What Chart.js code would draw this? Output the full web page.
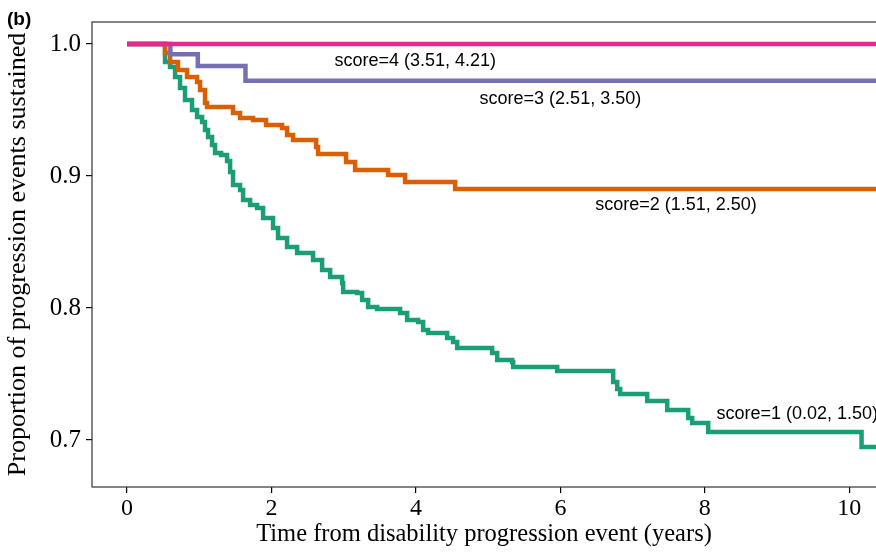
<!DOCTYPE html>
<html>
<head>
    <title>Progression events sustained</title>
    <script src="https://cdn.jsdelivr.net/npm/chart.js"></script>
    <style>
        body {
            margin: 0;
            background: white;
        }

        .chart-container {
            width: 876px;
            height: 555px;
        }
    </style>
</head>
<body>
    <div class="chart-container">
        <canvas id="km-chart"></canvas>
    </div>

    <script>
        // step points: survival drops to value at the given time (years)
        const score1Times = [0, 0.5, 0.526, 0.596, 0.665, 0.734, 0.803, 0.9, 0.97, 1.039, 1.08, 1.122, 1.177, 1.219, 1.302, 1.385, 1.427, 1.468, 1.565, 1.607, 1.704, 1.801, 1.884, 2.022, 2.091, 2.216, 2.355, 2.576, 2.701, 2.812, 2.978, 2.992, 3.186, 3.255, 3.338, 3.463, 3.781, 3.878, 4.03, 4.1, 4.169, 4.432, 4.515, 4.571, 5.055, 5.125, 5.332, 5.346, 5.956, 6.731, 6.787, 6.828, 7.202, 7.479, 7.77, 7.825, 8.047, 10.17, 10.4];
        const score1Surv = [1.0, 1.0, 0.9864, 0.9826, 0.975, 0.9667, 0.9576, 0.95, 0.9447, 0.9409, 0.9348, 0.9295, 0.9235, 0.9174, 0.9159, 0.9114, 0.903, 0.8932, 0.8894, 0.8818, 0.878, 0.8758, 0.8682, 0.8606, 0.853, 0.8462, 0.8417, 0.8364, 0.8288, 0.8235, 0.8189, 0.8121, 0.8114, 0.8061, 0.8008, 0.7992, 0.7962, 0.7909, 0.7894, 0.7833, 0.7811, 0.7773, 0.7742, 0.7697, 0.7659, 0.7606, 0.7591, 0.7553, 0.7523, 0.7439, 0.7386, 0.7348, 0.7295, 0.7227, 0.7167, 0.7129, 0.7061, 0.6947, 0.6947];

        const score2Times = [0, 0.5, 0.526, 0.596, 0.706, 0.831, 0.97, 1.011, 1.08, 1.108, 1.468, 1.565, 1.745, 1.925, 2.147, 2.216, 2.299, 2.618, 2.645, 3.033, 3.158, 3.615, 3.85, 4.543, 10.4];
        const score2Surv = [1.0, 1.0, 0.9932, 0.9864, 0.9803, 0.975, 0.9712, 0.9652, 0.9553, 0.9523, 0.9477, 0.9439, 0.9424, 0.9386, 0.9364, 0.9311, 0.9273, 0.922, 0.9167, 0.9106, 0.9045, 0.9008, 0.8955, 0.8902, 0.8902];

        const score3Times = [0, 0.6, 0.98, 1.64, 10.4];
        const score3Surv = [1.0, 0.9922, 0.9833, 0.9722, 0.9722];

        const score4Times = [0, 10.4];
        const score4Surv = [1.0, 1.0];

        const groupNames = ['score=1 (0.02, 1.50)', 'score=2 (1.51, 2.50)', 'score=3 (2.51, 3.50)', 'score=4 (3.51, 4.21)'];
        const groupColors = ['#1B9E77', '#D95F02', '#7570B3', '#E7298A'];
        // where each group name sits, in data units (years, proportion)
        const labelTimes = [9.28, 7.6, 6.0, 3.99];
        const labelSurv = [0.7197, 0.878, 0.9583, 0.9875];

        const xTicks = [0, 2, 4, 6, 8, 10];
        const yTicks = [0.7, 0.8, 0.9, 1.0];

        function toPoints(times, surv) {
            return times.map((t, i) => ({ x: t, y: surv[i] }));
        }

        const allTimes = [score1Times, score2Times, score3Times, score4Times];
        const allSurv = [score1Surv, score2Surv, score3Surv, score4Surv];

        // higher order is drawn first, so score=4 ends up on top
        const datasets = allTimes.map((times, i) => ({
            label: groupNames[i],
            data: toPoints(times, allSurv[i]),
            borderColor: groupColors[i],
            borderWidth: 4.5,
            pointRadius: 0,
            stepped: true,
            fill: false,
            order: 4 - i
        }));

        const serif = "'Liberation Serif', 'Times New Roman', serif";

        const extras = {
            id: 'extras',
            afterDatasetsDraw(chart) {
                const ctx = chart.ctx;
                const a = chart.chartArea;
                const xs = chart.scales.x;
                const ys = chart.scales.y;
                ctx.save();
                ctx.fillStyle = '#000';
                ctx.font = "18px 'Liberation Sans', Arial, sans-serif";
                ctx.textAlign = 'center';
                ctx.textBaseline = 'middle';
                groupNames.forEach((name, i) => {
                    ctx.fillText(name, xs.getPixelForValue(labelTimes[i]), ys.getPixelForValue(labelSurv[i]));
                });
                ctx.restore();

                ctx.save();
                ctx.strokeStyle = '#333';
                ctx.lineWidth = 1.2;
                ctx.strokeRect(a.left, a.top, a.right - a.left + 5, a.bottom - a.top);
                ctx.fillStyle = '#000';
                ctx.font = "bold 19px 'Liberation Sans', Arial, sans-serif";
                ctx.textAlign = 'left';
                ctx.textBaseline = 'middle';
                ctx.fillText('(b)', 7, 20);
                ctx.restore();
            }
        };

        const ctx = document.getElementById('km-chart').getContext('2d');
        const chart = new Chart(ctx, {
            type: 'line',
            data: { datasets: datasets },
            options: {
                responsive: true,
                maintainAspectRatio: false,
                animation: false,
                layout: { padding: { top: 22, right: 0, bottom: 0, left: 0 } },
                plugins: {
                    legend: { display: false },
                    tooltip: { enabled: false }
                },
                scales: {
                    x: {
                        type: 'linear',
                        min: -0.485,
                        max: 10.37,
                        afterBuildTicks: (s) => { s.ticks = xTicks.map(v => ({ value: v })); },
                        afterFit: (s) => { s.height = 68; },
                        grid: { display: true, drawOnChartArea: false, drawTicks: true, tickLength: 6, color: '#000', lineWidth: 1.2 },
                        border: { display: false },
                        ticks: { color: '#000', font: { family: serif, size: 24 }, padding: 1, maxRotation: 0 },
                        title: { display: true, text: 'Time from disability progression event (years)', color: '#000', font: { family: serif, size: 24.5 }, padding: { top: 0, bottom: 6 } }
                    },
                    y: {
                        type: 'linear',
                        min: 0.6644,
                        max: 1.0167,
                        afterBuildTicks: (s) => { s.ticks = yTicks.map(v => ({ value: v })); },
                        afterFit: (s) => { s.width = 92; },
                        grid: { display: true, drawOnChartArea: false, drawTicks: true, tickLength: 6, color: '#000', lineWidth: 1.2 },
                        border: { display: false },
                        ticks: { color: '#000', font: { family: serif, size: 25 }, padding: 5, callback: (v) => v.toFixed(1) },
                        title: { display: true, text: 'Proportion of progression events sustained', color: '#000', font: { family: serif, size: 26 }, padding: { top: 3, bottom: 0 } }
                    }
                }
            },
            plugins: [extras]
        });
    </script>
</body>
</html>
